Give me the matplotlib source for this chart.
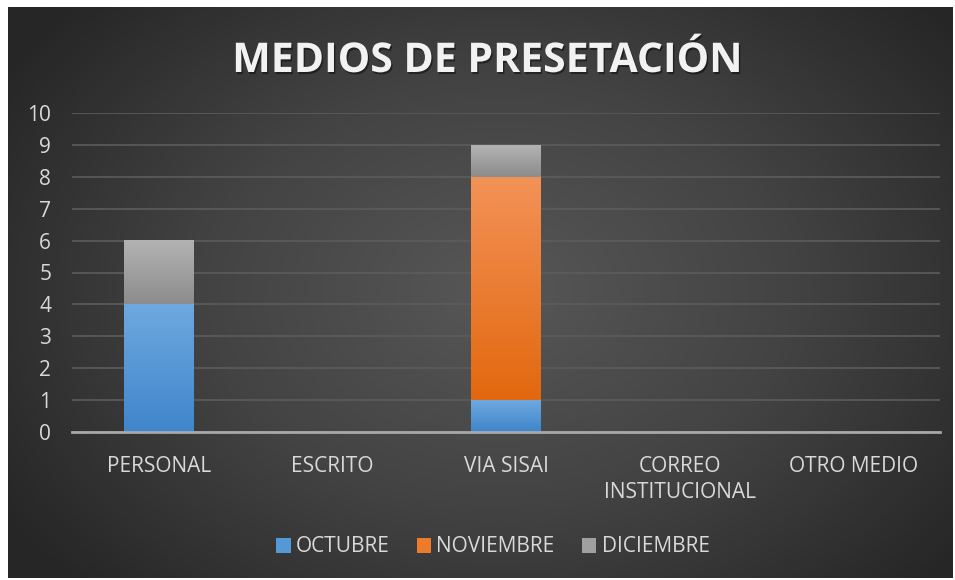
import numpy as np
import matplotlib
matplotlib.use("Agg")
import matplotlib.pyplot as plt
import matplotlib.patheffects as pe
from matplotlib.colors import LinearSegmentedColormap

categories = ["PERSONAL", "ESCRITO", "VIA SISAI", "CORREO\nINSTITUCIONAL", "OTRO MEDIO"]
series_names = ["OCTUBRE", "NOVIEMBRE", "DICIEMBRE"]
octubre = [4, 0, 1, 0, 0]
noviembre = [0, 0, 7, 0, 0]
diciembre = [2, 0, 1, 0, 0]
yticks = list(range(0, 11))

# top / bottom colours of each gradient fill
fills = [("#6ea8df", "#3f86cb"), ("#f39257", "#e2680f"), ("#b3b3b3", "#8c8c8c")]
mids = ["#5598d6", "#ee7b2c", "#a0a0a0"]
txt = "#d9d9d9"

plt.rcParams["font.family"] = ["Open Sans", "DejaVu Sans"]

W, H = 955, 580
fig = plt.figure(figsize=(W / 100, H / 100), dpi=100, facecolor="white")

# dark panel with radial glow
bg = fig.add_axes([8 / W, 2 / H, 944 / W, 571 / H], zorder=0)
yy, xx = np.mgrid[0:1:300j, 0:1:500j]
r = np.sqrt(((xx - 0.52) / 0.62) ** 2 + ((yy - 0.5) / 0.75) ** 2)
r = np.clip(r, 0, 1)
bg_cmap = LinearSegmentedColormap.from_list("bg", ["#575757", "#434343", "#262626"])
bg.imshow(r, cmap=bg_cmap, aspect="auto", extent=[0, 1, 0, 1], vmin=0, vmax=1)
bg.set_axis_off()

ax = fig.add_axes([72 / W, 148 / H, 868 / W, 319 / H], zorder=1)
ax.set_facecolor("none")

x = np.arange(len(categories))
width = 0.40
bottoms = np.zeros(len(categories))
containers = []
for vals, col, name in zip([octubre, noviembre, diciembre], mids, series_names):
    c = ax.bar(x, vals, width, bottom=bottoms, color=col, label=name, zorder=3)
    containers.append(c)
    bottoms = bottoms + np.array(vals)

grad = np.linspace(1, 0, 100).reshape(-1, 1)
for c, (top, bot) in zip(containers, fills):
    cm = LinearSegmentedColormap.from_list("g", [bot, top])
    for p in c.patches:
        h = p.get_height()
        if h <= 0:
            continue
        x0, y0, w = p.get_x(), p.get_y(), p.get_width()
        ax.imshow(grad, cmap=cm, aspect="auto", extent=[x0, x0 + w, y0, y0 + h],
                  vmin=0, vmax=1, zorder=4)

ax.set_xlim(-0.5, len(categories) - 0.5)
ax.set_ylim(0, 10)
ax.set_yticks(yticks)
ax.yaxis.grid(True, color="#5c5c5c", linewidth=1.2, zorder=1)
ax.set_axisbelow(True)
for s in ["top", "right", "left"]:
    ax.spines[s].set_visible(False)
ax.spines["bottom"].set_color("#a8a8a8")
ax.spines["bottom"].set_linewidth(2)
ax.spines["bottom"].set_zorder(5)
ax.tick_params(axis="both", length=0, colors=txt, labelsize=15)
ax.tick_params(axis="y", pad=15)
ax.tick_params(axis="x", pad=17)
ax.set_xticks(x)
ax.set_xticklabels(categories, linespacing=1.35)

fig.text(0.510, 1 - 72 / H, "MEDIOS DE PRESETACIÓN", ha="center", va="baseline",
         fontsize=29.5, fontweight="bold", color="#f2f2f2",
         path_effects=[pe.withSimplePatchShadow(offset=(1, -1.5), shadow_rgbFace="black", alpha=0.45)])

leg = fig.legend(handles=containers, labels=series_names, loc="center",
                 bbox_to_anchor=(0.516, 1 - 547 / H), ncol=3, frameon=False,
                 fontsize=15, handlelength=0.7, handleheight=0.7,
                 handletextpad=0.25, columnspacing=1.3, labelcolor=txt)

fig.savefig("out.png", dpi=100, facecolor="white")
